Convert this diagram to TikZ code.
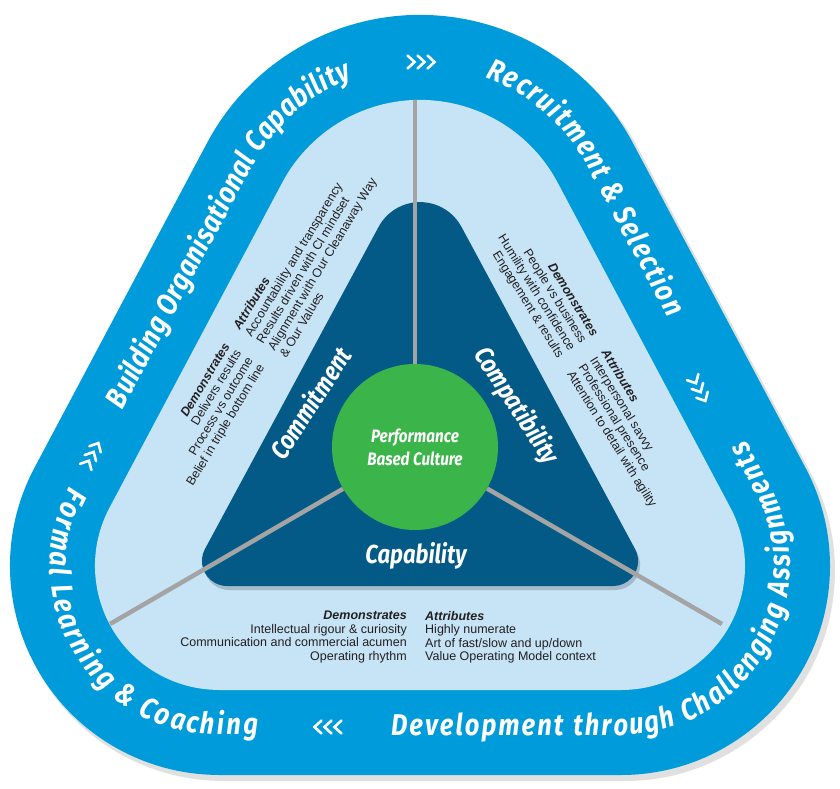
\documentclass[tikz,border=0pt]{standalone}
\usepackage{fontspec}
\setmainfont{Liberation Sans}
\newfontfamily\bandfont[FakeStretch=0.85]{Fira Sans}
\usetikzlibrary{decorations.text}

\definecolor{ringblue}{HTML}{009BDA}
\definecolor{paleblue}{HTML}{C6E4F6}
\definecolor{coreblue}{HTML}{045A87}
\definecolor{hubgreen}{HTML}{3BB54A}
\definecolor{spoke}{HTML}{A4A4A4}
\definecolor{ink}{HTML}{231F20}

% pale field and core triangle, pixel units with y pointing down
\newcommand{\fieldloop}{(219,690) -- (621,690) arc[start angle=90,end angle=-27.9,radius=124]
  -- (557.8,182.9) arc[start angle=-27.9,end angle=-152.1,radius=156]
  -- (109.4,507.9) arc[start angle=207.9,end angle=90,radius=124] -- cycle}
\newcommand{\coreloop}{(226.9,586) -- (613.1,586) arc[start angle=90,end angle=-28.3,radius=25]
  -- (461.4,226.8) arc[start angle=-28.3,end angle=-151.7,radius=47]
  -- (204.9,549.1) arc[start angle=208.3,end angle=90,radius=25] -- cycle}
\newcommand{\bandstyle}{\bandfont\bfseries\itshape\fontsize{30}{30}\selectfont\color{white}}

\begin{document}
\begin{tikzpicture}[x=1pt, y=-1pt,
    band/.style={decorate, decoration={text along path, text align={fit to path}, text={|\bandstyle|#1}}},
    seg/.style={text=white, font=\bandfont\bfseries\itshape\fontsize{26}{26}\selectfont},
    chevline/.style={white, line width=2.6pt, line cap=round, line join=miter},
    demo/.style={anchor=north east, align=right, inner xsep=9pt, inner ysep=0pt, text=ink, font=\fontsize{12.5}{13.5}\selectfont},
    attr/.style={anchor=north west, align=left, inner xsep=9pt, inner ysep=0pt, text=ink, font=\fontsize{12.5}{13.5}\selectfont},
    spokeline/.style={spoke, line width=4.5pt}
]
  \fill[white] (0,0) rectangle (840,789);
  \useasboundingbox (0,0) rectangle (840,789);

  % outer ring with its shadow, then the pale field
  \draw[line width=172pt, line join=round, black, opacity=0.12, shift={(4,5)}] \fieldloop;
  \filldraw[ringblue, line width=170pt, line join=round] \fieldloop;
  \fill[paleblue] \fieldloop;

  % core triangle
  \fill[black, opacity=0.18, shift={(2,4)}] \coreloop;
  \fill[coreblue] \coreloop;

  % hub and spokes
  \node[circle, fill=hubgreen, minimum size=166pt, inner sep=0pt, text=white, align=center,
        font=\bandfont\bfseries\itshape\fontsize{18}{23}\selectfont] (hub) at (415,447)
        {Performance\\Based Culture};
  \coordinate (topend) at (415,100);
  \coordinate (leftend) at (110,624);
  \coordinate (rightend) at (722,624);
  \draw[spokeline] (hub) -- (topend);
  \draw[spokeline] (hub) -- (leftend);
  \draw[spokeline] (hub) -- (rightend);

  % segment names
  \node[seg, rotate=57] (commit) at (310,403) {Commitment};
  \node[seg, rotate=-57] (compat) at (516,406) {Compatibility};
  \node[seg] (capab) at (416,556) {Capability};

  % ring texts
  \path[band={Building Organisational Capability}]
    (122.9,410) -- (252.2,167.0) arc[start angle=207.9,end angle=249,radius=190];
  \path[band={Recruitment {\&} Selection}]
    (485.0,77.5) arc[start angle=-70,end angle=-27.9,radius=190] -- (667.8,318);
  \path[band={Formal Learning {\&} Coaching}]
    (69.6,486.8) arc[start angle=207.9,end angle=90,radius=169] -- (258,735);
  \path[band={Development through Challenging Assignments}]
    (391,735) -- (621,735) arc[start angle=90,end angle=-27.9,radius=169] -- (746,440);

  % flow chevrons
  \foreach \cx/\cy/\ang in {421/62/0, 699/389/-62, 328/727/180, 92/455/62}{
    \begin{scope}[shift={(\cx,\cy)}, rotate=\ang]
      \foreach \dx in {-10,0,10}
        \draw[chevline] (\dx-3.5,-6.5) -- (\dx+3.5,0) -- (\dx-3.5,6.5);
    \end{scope}
  }

  % Commitment field
  \node[demo, rotate=59] (cmdemo) at (227.3,333.9)
    {\textbf{\textit{Demonstrates}}\\Delivers results\\Process vs outcome\\Belief in triple bottom line};
  \node[attr, rotate=59] (cmattr) at (227.3,333.9)
    {\textbf{\textit{Attributes}}\\Accountability and transparency\\Results driven with CI mindset\\Alignment with Our Cleanaway Way\\\& Our Values};

  % Compatibility field
  \node[demo, rotate=-58] (cpdemo) at (604.1,340.2)
    {\textbf{\textit{Demonstrates}}\\People vs business\\Humility with confidence\\Engagement \& results};
  \node[attr, rotate=-58] (cpattr) at (604.1,340.2)
    {\textbf{\textit{Attributes}}\\Interpersonal savvy\\Professional presence\\Attention to detail with agility};

  % Capability field
  \node[demo] (cbdemo) at (416,611)
    {\textbf{\textit{Demonstrates}}\\Intellectual rigour \& curiosity\\Communication and commercial acumen\\Operating rhythm};
  \node[attr] (cbattr) at (416,611)
    {\textbf{\textit{Attributes}}\\Highly numerate\\Art of fast/slow and up/down\\Value Operating Model context};
\end{tikzpicture}
\end{document}
